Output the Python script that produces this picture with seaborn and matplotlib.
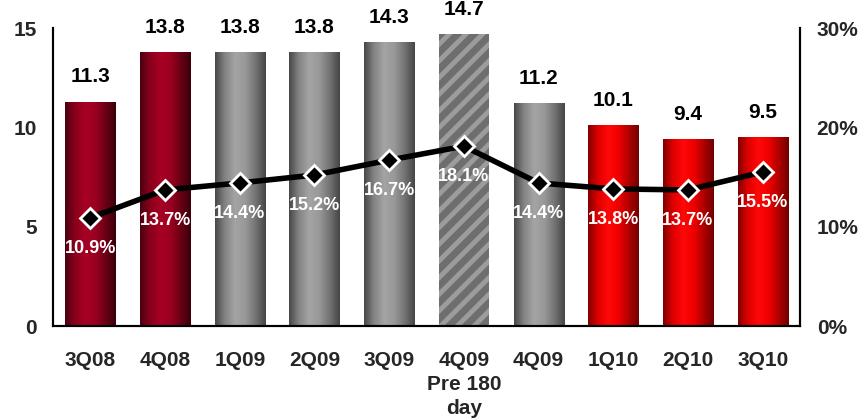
import numpy as np
import pandas as pd
import matplotlib
matplotlib.use("Agg")
import matplotlib.pyplot as plt
import seaborn as sns
from matplotlib.colors import LinearSegmentedColormap
from matplotlib.ticker import FuncFormatter, MultipleLocator

categories = ["3Q08", "4Q08", "1Q09", "2Q09", "3Q09", "4Q09\nPre 180\nday", "4Q09", "1Q10", "2Q10", "3Q10"]
bar_values = [11.3, 13.8, 13.8, 13.8, 14.3, 14.7, 11.2, 10.1, 9.4, 9.5]
pct_values = [10.9, 13.7, 14.4, 15.2, 16.7, 18.1, 14.4, 13.8, 13.7, 15.5]
groups = ["dark", "dark", "gray", "gray", "gray", "hatch", "gray", "red", "red", "red"]

sns.set_theme(style="white")
plt.rcParams['font.family'] = ['Liberation Sans', 'DejaVu Sans']
plt.rcParams['hatch.linewidth'] = 3.5
plt.rcParams['hatch.color'] = "#9c9c9c"

fig = plt.figure(figsize=(8.64, 4.19), dpi=100)
ax = fig.add_axes([53/864, 93/419, 747/864, 298/419])

df = pd.DataFrame({"cat": categories, "val": bar_values, "grp": groups})
base_cols = {"dark": "#a00020", "gray": "#909090", "hatch": "#6e6e6e", "red": "#ff0000"}
sns.barplot(data=df, x="cat", y="val", hue="grp", palette=base_cols, dodge=False,
            width=0.67, legend=False, ax=ax, saturation=1)

# gradients (cylinder shading)
grad = {
    "dark": ["#4a0010", "#8a001c", "#a80025", "#9a0020", "#6a0015", "#3a000a"],
    "gray": ["#474747", "#858585", "#a4a4a4", "#989898", "#737373", "#454545"],
    "red": ["#800000", "#e00000", "#ff0808", "#f00000", "#b00000", "#700000"],
}
patches = [p for p in ax.patches if p.get_height() > 0]
patches.sort(key=lambda p: p.get_x())
for p, g in zip(patches, groups):
    x0, w, h = p.get_x(), p.get_width(), p.get_height()
    if g == "hatch":
        p.set_facecolor("#6e6e6e")
        p.set_hatch("//")
        p.set_edgecolor("#9c9c9c")
        p.set_linewidth(0)
        continue
    cmap = LinearSegmentedColormap.from_list(g, grad[g])
    img = np.linspace(0, 1, 256).reshape(1, -1)
    im = ax.imshow(img, cmap=cmap, extent=[x0, x0 + w, 0, h], aspect="auto",
                   origin="lower", zorder=p.get_zorder() + 0.1)
    im.set_clip_path(p)

ax.set_xlim(-0.5, len(categories) - 0.5)
ax.set_ylim(0, 15)
ax.yaxis.set_major_locator(MultipleLocator(5))
ax.set_xlabel("")
ax.set_ylabel("")

for i, v in enumerate(bar_values):
    ax.annotate(f"{v:.1f}", (i, v), xytext=(0, 11), textcoords="offset points",
                ha="center", va="bottom", fontsize=15, fontweight="bold",
                color="black", annotation_clip=False)

ax2 = ax.twinx()
xpos = np.arange(len(categories))
sns.lineplot(x=xpos, y=pct_values, ax=ax2, color="black", lw=4, marker="D",
             markersize=10, markeredgecolor="white", markeredgewidth=2, zorder=5)
ax2.set_ylim(0, 30)
ax2.yaxis.set_major_locator(MultipleLocator(10))
ax2.yaxis.set_major_formatter(FuncFormatter(lambda v, _: f"{v:.0f}%"))
ax2.set_ylabel("")
for i, v in enumerate(pct_values):
    ax2.annotate(f"{v:.1f}%", (i, v), xytext=(0, -22), textcoords="offset points",
                 ha="center", va="center", fontsize=13, fontweight="bold",
                 color="white", zorder=6)

for a in (ax, ax2):
    a.spines["top"].set_visible(False)
    for s in ("left", "right", "bottom"):
        a.spines[s].set_color("black")
        a.spines[s].set_linewidth(1.5)
    a.tick_params(length=0)

ax.tick_params(axis="y", pad=11.5, labelsize=15)
ax2.tick_params(axis="y", pad=12, labelsize=15)
for t in ax.get_yticklabels() + ax2.get_yticklabels():
    t.set_fontweight("bold")
ax.tick_params(axis="x", pad=18)
ax.set_xticks(range(len(categories)))
ax.set_xticklabels(categories, fontsize=15, fontweight="bold", linespacing=1.32)

fig.savefig("out.png", dpi=100)
